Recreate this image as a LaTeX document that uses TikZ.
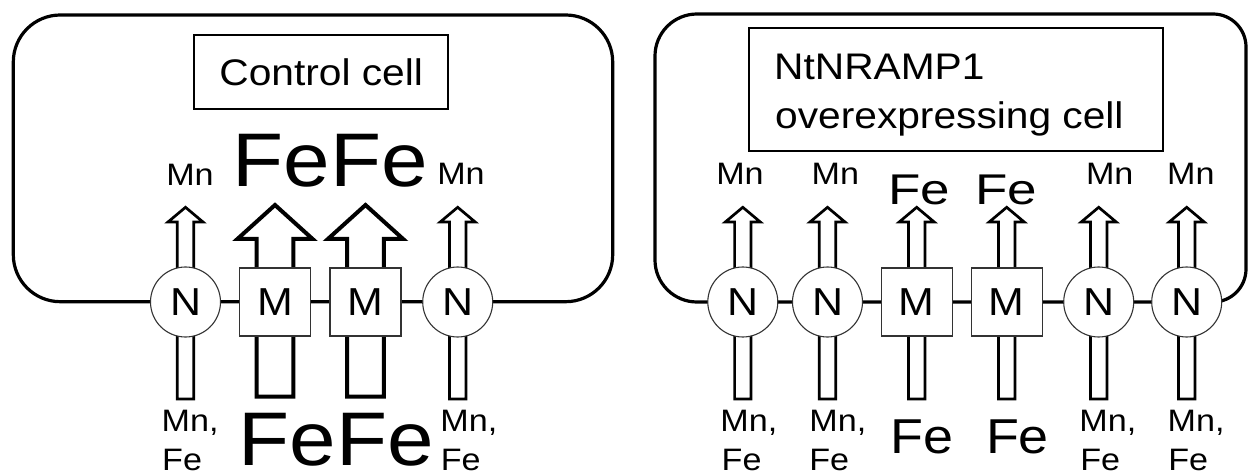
\documentclass[tikz,border=0pt]{standalone}
\usepackage{fontspec}
\usepackage{graphicx}
\setmainfont{Liberation Sans}[FakeStretch=1.1]
\usetikzlibrary{calc}
\newcommand\fsz[1]{\fontsize{#1}{#1}\selectfont}
\newcommand\thinarr[1]{%
  \draw[thinar] ($(#1)+(-8.2,97)$) -- ($(#1)+(-8.2,-80)$) -- ($(#1)+(-17.5,-80)$) -- ($(#1)+(0,-94.7)$) -- ($(#1)+(17.5,-80)$) -- ($(#1)+(8.2,-80)$) -- ($(#1)+(8.2,97)$) -- cycle;}
\newcommand\bigarr[1]{%
  \draw[bigar] ($(#1)+(-18.4,94.5)$) -- ($(#1)+(-18.4,-63)$) -- ($(#1)+(-37.6,-63)$) -- ($(#1)+(0,-97)$) -- ($(#1)+(37.6,-63)$) -- ($(#1)+(18.4,-63)$) -- ($(#1)+(18.4,94.5)$) -- cycle;}
\begin{document}
\begin{tikzpicture}[x=1pt,y=-1pt,
  panel/.style={draw=black, line width=3.2pt},
  titlebox/.style={draw=black, line width=2pt, inner sep=0pt, fill=white},
  thinar/.style={draw=black, fill=white, line width=2.7pt, line join=miter},
  bigar/.style={draw=black, fill=white, line width=4pt, line join=miter},
  nnode/.style={circle, draw=black!80, line width=1.1pt, fill=white, minimum size=70pt, inner sep=0pt, font=\fsz{39}},
  mnode/.style={rectangle, draw=black!80, line width=1.1pt, fill=white, minimum width=71pt, minimum height=68pt, inner sep=0pt, font=\fsz{39}},
  lbl/.style={inner sep=0pt, anchor=base},
  lblw/.style={inner sep=0pt, anchor=base west}]
\useasboundingbox (0,0) rectangle (1248,473);

% ---------- left panel ----------
\draw[panel, rounded corners=47pt] (13.3,15) rectangle (612.7,301.7);
\node[titlebox, minimum width=254.3pt, minimum height=74.3pt, font=\fsz{37}] (t1) at (321.2,72.2) {Control cell};

\coordinate (a1) at (185.5,302);
\coordinate (a2) at (275,302);
\coordinate (a3) at (365.5,302);
\coordinate (a4) at (457.7,302);
\thinarr{a1}
\bigarr{a2}
\bigarr{a3}
\thinarr{a4}
\node[nnode] (ln1) at (a1) {N};
\node[mnode] (lm1) at (a2) {M};
\node[mnode] (lm2) at (a3) {M};
\node[nnode] (ln2) at (a4) {N};

\node[lbl, font=\fsz{31}] (ltmn1) at (190,186) {Mn};
\node[lbl, font=\fsz{76}] (ltfe) at (330,186.7) {FeFe};
\node[lbl, font=\fsz{31}] (ltmn2) at (461,185) {Mn};
\node[lblw, font=\fsz{31}] (lb1a) at (161.5,431) {Mn,};
\node[lblw, font=\fsz{31}] (lb1b) at (162,470.5) {Fe};
\node[lbl, font=\fsz{76}] (lbfe) at (336,465) {FeFe};
\node[lblw, font=\fsz{31}] (lb2a) at (440.2,431.5) {Mn,};
\node[lblw, font=\fsz{31}] (lb2b) at (440.6,470.5) {Fe};

% ---------- right panel ----------
\draw[panel] (655,150) [rounded corners=42pt] -- (655,14) -- (950,14) [rounded corners=33pt] -- (1246,14) -- (1246,302) -- (950,302) [rounded corners=42pt] -- (655,302) -- cycle;
\node[titlebox, minimum width=414pt, minimum height=122.4pt] (t2) at (956,89.5) {};
\node[lblw, font=\fsz{37}] (t2a) at (774,80) {NtNRAMP1};
\node[lblw, font=\fsz{37}] (t2b) at (775,128.3) {overexpressing cell};

\coordinate (b1) at (742.8,302);
\coordinate (b2) at (827.5,302);
\coordinate (b3) at (916.7,302);
\coordinate (b4) at (1006.7,302);
\coordinate (b5) at (1098.7,302);
\coordinate (b6) at (1186.7,302);
\thinarr{b1}
\thinarr{b2}
\thinarr{b3}
\thinarr{b4}
\thinarr{b5}
\thinarr{b6}
\node[nnode] (rn1) at (b1) {N};
\node[nnode] (rn2) at (b2) {N};
\node[mnode] (rm1) at (b3) {M};
\node[mnode] (rm2) at (b4) {M};
\node[nnode] (rn3) at (b5) {N};
\node[nnode] (rn4) at (b6) {N};

\node[lbl, font=\fsz{31}] (rtmn1) at (740,185) {Mn};
\node[lbl, font=\fsz{31}] (rtmn2) at (835.3,185) {Mn};
\node[lbl, font=\fsz{43}] (rtfe1) at (919.5,205) {\scalebox{1.12}[1]{Fe}};
\node[lbl, font=\fsz{43}] (rtfe2) at (1006,205) {\scalebox{1.12}[1]{Fe}};
\node[lbl, font=\fsz{31}] (rtmn3) at (1109.7,185) {Mn};
\node[lbl, font=\fsz{31}] (rtmn4) at (1190.8,185) {Mn};

\node[lblw, font=\fsz{31}] (rb1a) at (720.2,431.7) {Mn,};
\node[lblw, font=\fsz{31}] (rb1b) at (721.5,470.5) {Fe};
\node[lblw, font=\fsz{31}] (rb2a) at (809.2,431.7) {Mn,};
\node[lblw, font=\fsz{31}] (rb2b) at (809.2,470.5) {Fe};
\node[lbl, font=\fsz{49}] (rbfe1) at (922,453.3) {Fe};
\node[lbl, font=\fsz{49}] (rbfe2) at (1017.5,453.3) {Fe};
\node[lblw, font=\fsz{31}] (rb3a) at (1079.2,431.7) {Mn,};
\node[lblw, font=\fsz{31}] (rb3b) at (1080.2,470.5) {Fe};
\node[lblw, font=\fsz{31}] (rb4a) at (1167.5,431.7) {Mn,};
\node[lblw, font=\fsz{31}] (rb4b) at (1168.2,470.5) {Fe};
\end{tikzpicture}
\end{document}
